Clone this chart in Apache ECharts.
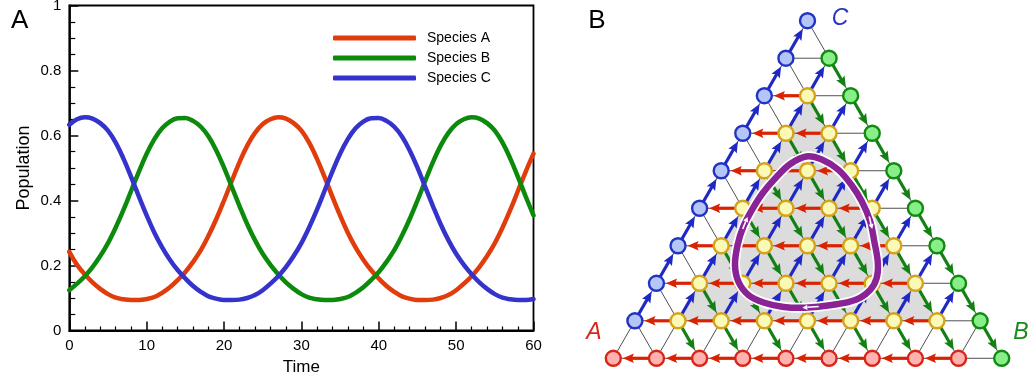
<!DOCTYPE html>
<html><head><meta charset="utf-8">
<script src="https://cdn.jsdelivr.net/npm/echarts@6/dist/echarts.min.js"></script>
<style>html,body{margin:0;padding:0;background:#fff}#c{width:1028px;height:377px}</style>
</head><body><div id="c"></div>
<script>
// ---------- Panel A data ----------
const times = [];
for (let t = 0; t <= 60; t++) times.push(t);
const speciesA = [0.242,0.202,0.173,0.148,0.128,0.112,0.101,0.096,0.094,0.094,
  0.097,0.103,0.116,0.133,0.155,0.180,0.211,0.247,0.292,0.343,
  0.400,0.460,0.518,0.569,0.608,0.635,0.650,0.656,0.652,0.638,
  0.615,0.578,0.529,0.472,0.412,0.354,0.301,0.256,0.218,0.186,
  0.160,0.137,0.119,0.105,0.098,0.094,0.094,0.095,0.100,0.109,
  0.124,0.144,0.167,0.195,0.229,0.269,0.317,0.371,0.430,0.489,0.544];
const speciesB = [0.124,0.144,0.167,0.195,0.229,0.269,0.317,0.371,0.430,0.489,
  0.544,0.589,0.622,0.643,0.653,0.654,0.645,0.627,0.597,0.554,
  0.501,0.442,0.383,0.327,0.278,0.236,0.202,0.173,0.148,0.128,
  0.112,0.101,0.096,0.094,0.094,0.097,0.103,0.116,0.133,0.155,
  0.180,0.211,0.247,0.292,0.343,0.400,0.460,0.518,0.569,0.608,
  0.635,0.650,0.656,0.652,0.638,0.615,0.578,0.529,0.472,0.412,0.354];
const speciesC = [0.633,0.650,0.656,0.652,0.638,0.615,0.578,0.529,0.472,0.412,
  0.354,0.301,0.256,0.218,0.186,0.160,0.137,0.119,0.105,0.098,
  0.094,0.094,0.095,0.100,0.109,0.124,0.144,0.167,0.195,0.229,
  0.269,0.317,0.371,0.430,0.489,0.544,0.589,0.622,0.643,0.653,
  0.654,0.645,0.627,0.597,0.554,0.501,0.442,0.383,0.327,0.278,
  0.236,0.202,0.173,0.148,0.128,0.112,0.101,0.096,0.094,0.094,0.097];
const seriesNames = ['Species A', 'Species B', 'Species C'];
const seriesColors = ['#e03c0c', '#0b8a0b', '#3434cc'];

// ---------- Panel B data ----------
const N = 9; // lattice size (a+b+c = N)
// closed orbit, in lattice coordinates (x = b + c/2, y = c)
const orbitPts = [[4.47,5.38],[4.83,5.30],[5.21,5.03],[5.52,4.62],[5.76,4.18],[5.95,3.66],
  [6.05,3.10],[6.13,2.55],[6.10,2.13],[5.95,1.82],[5.62,1.56],[5.06,1.42],[4.44,1.35],
  [3.95,1.37],[3.50,1.48],[3.13,1.69],[2.90,2.04],[2.82,2.49],[2.88,3.02],[3.01,3.50],
  [3.21,3.95],[3.46,4.40],[3.77,4.82],[4.10,5.18]];
const orbitArrows = [[3.00,3.45,3.11,3.77],[5.93,3.78,6.00,3.45],[4.76,1.38,4.38,1.35]];

const FONT = '"Liberation Sans", Arial, sans-serif';
const nodeStyles = {
  red:    {color:'#ffb2ae', borderColor:'#d8251a'},
  blue:   {color:'#b4c5f8', borderColor:'#2233c4'},
  green:  {color:'#88ee88', borderColor:'#118a11'},
  yellow: {color:'#fafab6', borderColor:'#d6a21a'}
};
const arrowColors = ['#d82200', '#138013', '#1f28c2'];

function pos(a, b, c) { return [b + c / 2, c]; }

const nodeData = [];
const edgeData = [];
const arrowData = [];
for (let c = 0; c <= N; c++) {
  for (let b = 0; b <= N - c; b++) {
    const a = N - b - c;
    let kind = 'yellow';
    if (c === 0 && a > 0) kind = 'red';
    else if (a === 0 && b > 0) kind = 'green';
    else if (b === 0 && c > 0) kind = 'blue';
    const p = pos(a, b, c);
    nodeData.push({value: p, itemStyle: nodeStyles[kind]});
    if (a >= 1) {
      const q = pos(a - 1, b + 1, c);
      edgeData.push([p[0], p[1], q[0], q[1]]);
      if (a >= 2) arrowData.push([q[0], q[1], p[0], p[1], 0]);
    }
    if (a >= 1) {
      const q = pos(a - 1, b, c + 1);
      edgeData.push([p[0], p[1], q[0], q[1]]);
      if (c >= 1) arrowData.push([p[0], p[1], q[0], q[1], 2]);
    }
    if (b >= 1) {
      const q = pos(a, b - 1, c + 1);
      edgeData.push([p[0], p[1], q[0], q[1]]);
      if (b >= 2) arrowData.push([q[0], q[1], p[0], p[1], 1]);
    }
  }
}
const grayTri = [pos(N - 2, 1, 1), pos(1, N - 2, 1), pos(1, 1, N - 2)];

function lineSeries(i, vals) {
  return {
    name: seriesNames[i], type: 'line', xAxisIndex: 0, yAxisIndex: 0,
    data: times.map((t, k) => [t, vals[k]]),
    showSymbol: false, smooth: 0.4, silent: true,
    lineStyle: {color: seriesColors[i], width: 4.5, cap: 'round'},
    itemStyle: {color: seriesColors[i]}, z: 3
  };
}

const TIP = 9.6, HEAD = 11, HW = 4.8;
function renderArrow(params, api) {
  const p1 = api.coord([api.value(0), api.value(1)]);
  const p2 = api.coord([api.value(2), api.value(3)]);
  const col = arrowColors[api.value(4)];
  const dx = p2[0] - p1[0], dy = p2[1] - p1[1], L = Math.hypot(dx, dy);
  const ux = dx / L, uy = dy / L, nx = -uy, ny = ux;
  const tip = [p2[0] - ux * TIP, p2[1] - uy * TIP];
  const base = [tip[0] - ux * HEAD, tip[1] - uy * HEAD];
  return {type: 'group', children: [
    {type: 'line', shape: {x1: p1[0], y1: p1[1], x2: base[0] + ux * 3, y2: base[1] + uy * 3},
     style: {stroke: col, lineWidth: 3.2}},
    {type: 'polygon', shape: {points: [tip, [base[0] + nx * HW, base[1] + ny * HW],
       [base[0] + ux * 2, base[1] + uy * 2], [base[0] - nx * HW, base[1] - ny * HW]]},
     style: {fill: col}}
  ]};
}

const option = {
  animation: false,
  backgroundColor: '#fff',
  textStyle: {fontFamily: FONT},
  grid: [
    {left: 69.3, top: 5.5, width: 464.2, height: 325, show: true, borderColor: '#000', borderWidth: 1.8,
     backgroundColor: 'transparent', containLabel: false, outerBoundsMode: 'none'},
    {left: 613.3, top: 20.7, width: 388.4, height: 337.6, containLabel: false, outerBoundsMode: 'none'}
  ],
  xAxis: [
    {gridIndex: 0, type: 'value', min: 0, max: 60, interval: 10,
     name: 'Time', nameLocation: 'middle', nameGap: 25,
     nameTextStyle: {fontSize: 17, color: '#000', fontFamily: FONT},
     axisLine: {lineStyle: {color: '#000', width: 1.8}},
     axisTick: {inside: true, length: 9, lineStyle: {color: '#000', width: 1.5}},
     minorTick: {show: true, splitNumber: 5, length: 4, lineStyle: {color: '#000', width: 1.2}},
     axisLabel: {margin: 8, fontSize: 15, color: '#000', fontFamily: FONT},
     splitLine: {show: false}, minorSplitLine: {show: false}},
    {gridIndex: 1, type: 'value', min: 0, max: N, show: false}
  ],
  yAxis: [
    {gridIndex: 0, type: 'value', min: 0, max: 1, interval: 0.2,
     name: 'Population', nameLocation: 'middle', nameGap: 36, nameRotate: 90,
     nameTextStyle: {fontSize: 18, color: '#000', fontFamily: FONT},
     axisLine: {lineStyle: {color: '#000', width: 1.8}},
     axisTick: {inside: true, length: 9, lineStyle: {color: '#000', width: 1.5}},
     minorTick: {show: true, splitNumber: 4, length: 6, lineStyle: {color: '#000', width: 1.2}},
     axisLabel: {margin: 8, fontSize: 15, color: '#000', fontFamily: FONT},
     splitLine: {show: false}, minorSplitLine: {show: false}},
    {gridIndex: 1, type: 'value', min: 0, max: N, show: false}
  ],
  legend: seriesNames.map((n, i) => ({
    data: [n], left: 333, top: 31 + 20 * i, padding: 0, orient: 'vertical',
    icon: 'roundRect', itemWidth: 83, itemHeight: 5, selectedMode: false,
    textStyle: {fontSize: 14, color: '#000', fontFamily: FONT, lineHeight: 14, padding: [0, 0, 0, 6]}
  })),
  graphic: [
    {type: 'text', x: 19.6, y: 21, style: {text: 'A', font: '26px ' + FONT, fill: '#000', align: 'center', verticalAlign: 'middle'}},
    {type: 'text', x: 597, y: 21, style: {text: 'B', font: '26px ' + FONT, fill: '#000', align: 'center', verticalAlign: 'middle'}},
    {type: 'text', x: 594, y: 333, style: {text: 'A', font: 'italic 23px ' + FONT, fill: '#d8251a', align: 'center', verticalAlign: 'middle'}},
    {type: 'text', x: 1021, y: 333, style: {text: 'B', font: 'italic 23px ' + FONT, fill: '#1a8a1a', align: 'center', verticalAlign: 'middle'}},
    {type: 'text', x: 840, y: 19, style: {text: 'C', font: 'italic 23px ' + FONT, fill: '#2a33c8', align: 'center', verticalAlign: 'middle'}}
  ],
  series: [
    lineSeries(0, speciesA), lineSeries(1, speciesB), lineSeries(2, speciesC),
    {type: 'custom', xAxisIndex: 1, yAxisIndex: 1, data: [grayTri[0]], silent: true, clip: false, z: 1,
     renderItem: (params, api) => ({type: 'polygon', shape: {points: grayTri.map(p => api.coord(p))}, style: {fill: '#dcdcdc'}})},
    {type: 'custom', xAxisIndex: 1, yAxisIndex: 1, data: edgeData, silent: true, clip: false, z: 2,
     renderItem: (params, api) => {
       const p1 = api.coord([api.value(0), api.value(1)]);
       const p2 = api.coord([api.value(2), api.value(3)]);
       return {type: 'line', shape: {x1: p1[0], y1: p1[1], x2: p2[0], y2: p2[1]}, style: {stroke: '#3c3c3c', lineWidth: 0.9}};
     }},
    {type: 'custom', xAxisIndex: 1, yAxisIndex: 1, data: arrowData, silent: true, clip: false, z: 3,
     renderItem: renderArrow},
    {type: 'scatter', xAxisIndex: 1, yAxisIndex: 1, data: nodeData, symbol: 'circle', symbolSize: 15,
     itemStyle: {borderWidth: 2.4, opacity: 1}, silent: true, clip: false, z: 4},
    {type: 'custom', xAxisIndex: 1, yAxisIndex: 1, data: orbitPts, silent: true, clip: false, z: 5,
     renderItem: (params, api) => {
       if (params.dataIndex !== 0) return null;
       const pts = orbitPts.map(p => api.coord(p));
       return {type: 'group', children: [
         {type: 'polygon', shape: {points: pts, smooth: 0.35}, style: {fill: 'none', stroke: '#ffffff', lineWidth: 10}},
         {type: 'polygon', shape: {points: pts, smooth: 0.35}, style: {fill: 'none', stroke: '#8a2396', lineWidth: 6.5}}
       ]};
     }},
    {type: 'custom', xAxisIndex: 1, yAxisIndex: 1, data: orbitArrows, silent: true, clip: false, z: 6,
     renderItem: (params, api) => {
       const p1 = api.coord([api.value(0), api.value(1)]);
       const p2 = api.coord([api.value(2), api.value(3)]);
       const dx = p2[0] - p1[0], dy = p2[1] - p1[1], L = Math.hypot(dx, dy);
       const ux = dx / L, uy = dy / L, nx = -uy, ny = ux;
       const base = [p2[0] - ux * 5, p2[1] - uy * 5];
       return {type: 'group', children: [
         {type: 'line', shape: {x1: p1[0], y1: p1[1], x2: base[0], y2: base[1]}, style: {stroke: '#fff', lineWidth: 1.6}},
         {type: 'polygon', shape: {points: [p2, [base[0] + nx * 2.6, base[1] + ny * 2.6], [base[0] - nx * 2.6, base[1] - ny * 2.6]]}, style: {fill: '#fff'}}
       ]};
     }}
  ]
};
const chart = echarts.init(document.getElementById('c'), null, {renderer: 'canvas', width: 1028, height: 377});
chart.setOption(option);
</script></body></html>
